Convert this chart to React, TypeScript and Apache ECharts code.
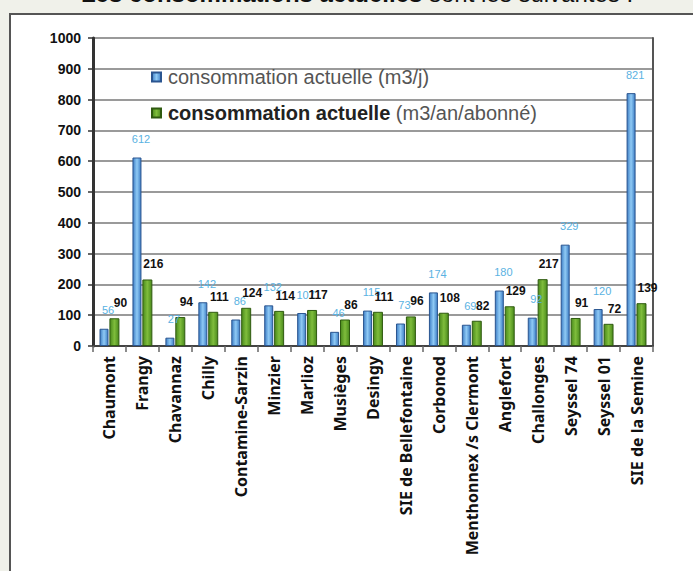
import React, { useEffect, useRef } from "react";
import * as echarts from "echarts";

const categories = [
  "Chaumont",
  "Frangy",
  "Chavannaz",
  "Chilly",
  "Contamine-Sarzin",
  "Minzier",
  "Marlioz",
  "Musièges",
  "Desingy",
  "SIE de Bellefontaine",
  "Corbonod",
  "Menthonnex /s Clermont",
  "Anglefort",
  "Challonges",
  "Seyssel 74",
  "Seyssel 01",
  "SIE de la Semine",
];

const consoJour = [56, 612, 27, 142, 86, 132, 107, 46, 115, 73, 174, 69, 180, 92, 329, 120, 821];
const consoAbonne = [90, 216, 94, 111, 124, 114, 117, 86, 111, 96, 108, 82, 129, 217, 91, 72, 139];

const seriesNames = ["consommation actuelle (m3/j)", "consommation actuelle (m3/an/abonné)"];
const yTicks = { min: 0, max: 1000, interval: 100 };

const narrow = "'Liberation Sans Narrow', 'Arial Narrow', 'Liberation Sans', Arial, sans-serif";
const sans = "'Liberation Sans', Arial, sans-serif";

export default function App() {
  const ref = useRef<HTMLDivElement>(null);
  useEffect(() => {
    if (!ref.current) return;
    const chart = echarts.init(ref.current, null, { renderer: "svg" });
    const blueGrad = new echarts.graphic.LinearGradient(0, 0, 1, 0, [
      { offset: 0, color: "#3f7fc6" },
      { offset: 0.5, color: "#8fcaf5" },
      { offset: 1, color: "#3f7fc6" },
    ]);
    const greenGrad = new echarts.graphic.LinearGradient(0, 0, 1, 0, [
      { offset: 0, color: "#4a8a1c" },
      { offset: 0.5, color: "#7fbd3c" },
      { offset: 1, color: "#4a8a1c" },
    ]);
    chart.setOption({
      animation: false,
      backgroundColor: "#f0f1ea",
      graphic: [
        {
          type: "rect",
          z: -10,
          shape: { x: 10, y: 14, width: 720, height: 620 },
          style: { fill: "#ffffff", stroke: "#555555", lineWidth: 2 },
        },
        {
          type: "text",
          x: 357,
          y: -7,
          style: {
            text: "{b|Les consommations actuelles}{n| sont les suivantes :}",
            align: "center",
            verticalAlign: "middle",
            rich: {
              b: { fontFamily: sans, fontSize: 24, fontWeight: "bold", fill: "#111" },
              n: { fontFamily: sans, fontSize: 24, fontWeight: "normal", fill: "#111" },
            },
          },
        },
      ],
      grid: { left: 93, top: 38, width: 560, height: 308, containLabel: false },
      legend: {
        orient: "vertical",
        left: 146,
        top: 62,
        itemWidth: 9,
        itemHeight: 9,
        itemGap: 16,
        icon: "rect",
        data: seriesNames,
        formatter: (name: string) =>
          name === seriesNames[1]
            ? "{b|consommation actuelle} {n|(m3/an/abonné)}"
            : "{n|" + name + "}",
        textStyle: {
          fontFamily: sans,
          fontSize: 20,
          color: "#555",
          padding: [0, 0, 0, 2],
          rich: {
            b: { fontFamily: sans, fontSize: 20, color: "#222", fontWeight: "bold", lineHeight: 22 },
            n: { fontFamily: sans, fontSize: 20, color: "#555", lineHeight: 22 },
          },
        },
      },
      xAxis: {
        type: "category",
        data: categories,
        axisLine: { lineStyle: { color: "#444", width: 2 } },
        axisTick: { show: true, length: 6, lineStyle: { color: "#666", width: 1.5 } },
        axisLabel: {
          rotate: 90,
          interval: 0,
          margin: 10,
          fontFamily: "'Noto Sans', 'Open Sans', sans-serif",
          fontWeight: "bold",
          fontSize: 16,
          color: "#111",
        },
      },
      yAxis: [
        {
          type: "value",
          min: yTicks.min,
          max: yTicks.max,
          interval: yTicks.interval,
          axisLine: { show: true, lineStyle: { color: "#333", width: 3 } },
          axisTick: { show: true, length: 5, lineStyle: { color: "#333", width: 1.5 } },
          splitLine: { show: true, lineStyle: { color: "#9a9a9a", width: 2 } },
          axisLabel: {
            margin: 12,
            formatter: (v: number) => String(v),
            fontFamily: narrow,
            fontWeight: "bold",
            fontSize: 14,
            color: "#111",
          },
        },
        {
          type: "value",
          position: "right",
          min: yTicks.min,
          max: yTicks.max,
          interval: yTicks.interval,
          axisLine: { show: true, lineStyle: { color: "#555", width: 2 } },
          axisTick: { show: false },
          splitLine: { show: false },
          axisLabel: { show: false },
        },
      ],
      series: [
        {
          name: seriesNames[0],
          type: "bar",
          data: consoJour,
          barWidth: 9,
          barGap: "10%",
          itemStyle: { color: blueGrad, borderColor: "#2a5590", borderWidth: 1 },
          label: {
            show: true,
            position: "top",
            distance: 13,
            offset: [4, 0],
            fontFamily: narrow,
            fontSize: 11,
            color: "#5ab2e2",
          },
        },
        {
          name: seriesNames[1],
          type: "bar",
          data: consoAbonne,
          barWidth: 10,
          itemStyle: { color: greenGrad, borderColor: "#2f5a10", borderWidth: 1 },
          label: {
            show: true,
            position: "top",
            distance: 9,
            offset: [6, 0],
            fontFamily: narrow,
            fontWeight: "bold",
            fontSize: 12,
            color: "#111",
          },
        },
      ],
    });
    return () => chart.dispose();
  }, []);
  return (
    <div
      ref={ref}
      style={{ position: "absolute", left: 0, top: 0, width: 693, height: 571 }}
    />
  );
}
